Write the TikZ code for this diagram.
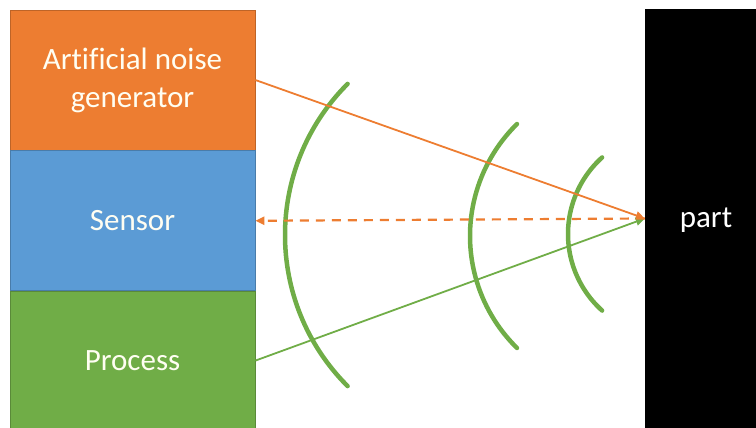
\documentclass[tikz,border=0pt]{standalone}
\usepackage{fontspec}
\setmainfont{Carlito}[Ligatures=NoCommon]
\usetikzlibrary{positioning}
\usetikzlibrary{arrows.meta}

\definecolor{noiseorange}{HTML}{ED7D31}
\definecolor{sensorblue}{HTML}{5B9BD5}
\definecolor{processgreen}{HTML}{70AD47}

\begin{document}
\begin{tikzpicture}[x=1pt,y=-1pt,
    block/.style={draw=#1!80!black, fill=#1, line width=0.8pt, text=white!95!yellow,
      minimum width=245pt, minimum height=140pt, inner sep=0pt, align=center,
      font=\fontsize{31}{38}\selectfont},
    ray/.style={line width=1.8pt, -{Triangle[length=9pt,width=8pt]}},
    wave/.style={processgreen, line width=4.5pt, line cap=round}]
        \useasboundingbox (0,0) rectangle (756,428);
        %% Draw the three blocks and the part.
        \node[block=noiseorange] (noise) at (132.5,80) {Artificial noise\\generator};
        \node[block=sensorblue, below=0pt of noise] (sensor) {Sensor};
        \node[block=processgreen, below=0pt of sensor, minimum height=138pt] (process) {Process};
        \node[fill=black, minimum width=111pt, minimum height=419pt, inner sep=0pt] (part) at (700.5,218.5) {};
        \node[text=white, font=\fontsize{31}{36}\selectfont] (partlabel) at (706,220) {part};
        %% Waves.
        \coordinate (w1) at (498.7,235);
        \coordinate (w2) at (627,236);
        \coordinate (w3) at (671,234);
        \draw[wave] ([shift={(135:213.7)}]w1) arc[start angle=135, end angle=225, radius=213.7];
        \draw[wave] ([shift={(134.5:157)}]w2) arc[start angle=134.5, end angle=225.5, radius=157];
        \draw[wave] ([shift={(132:103)}]w3) arc[start angle=132, end angle=228, radius=103];
        %% Rays.
        \draw[ray, noiseorange] (noise.east) -- (part.west);
        \draw[ray, processgreen] (process.east) -- (part.west);
        \draw[ray, noiseorange, dashed, dash pattern=on 9pt off 7pt, line width=2.2pt] (part.west) -- (sensor.east);
\end{tikzpicture}
\end{document}
